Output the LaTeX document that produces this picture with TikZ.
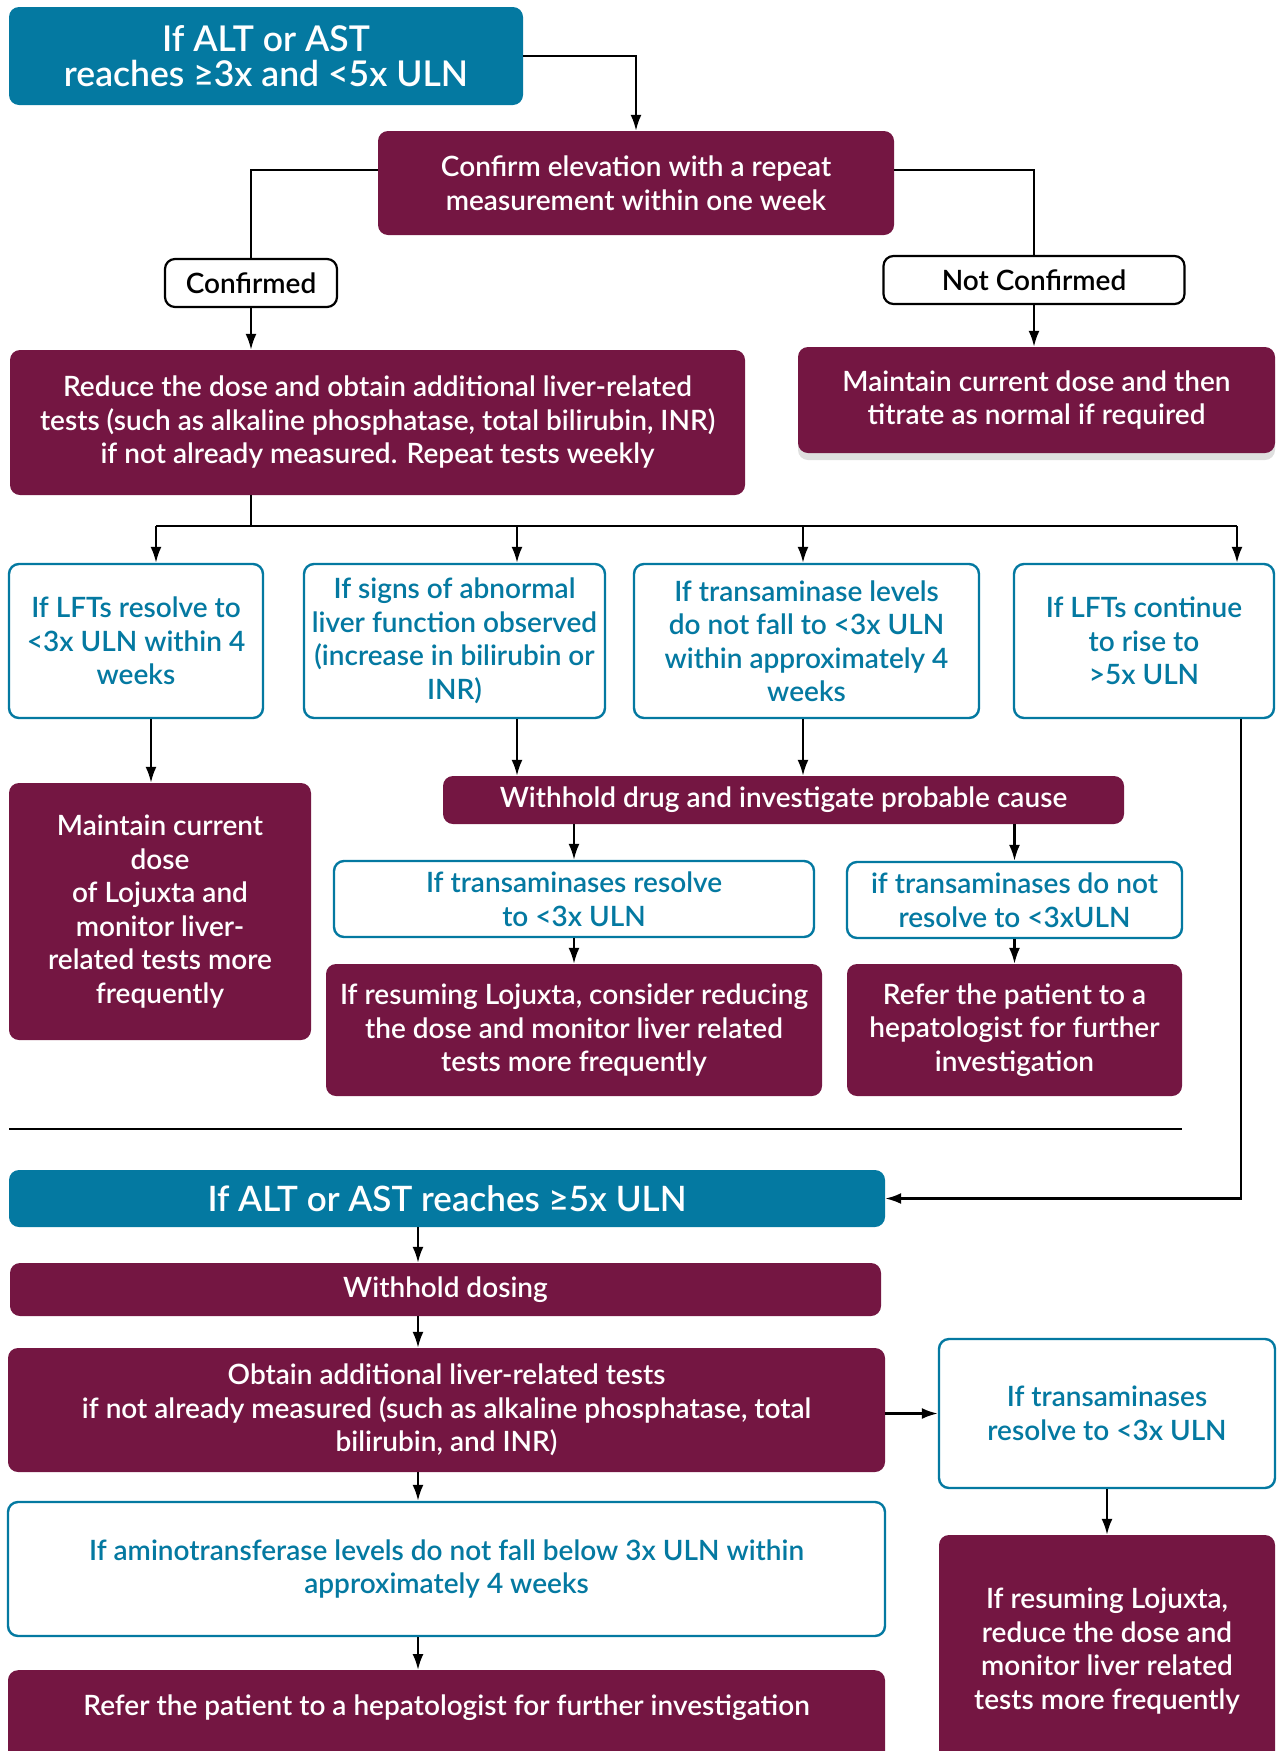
\documentclass[tikz,border=0pt]{standalone}
\usepackage{fontspec}
\setmainfont{Lato}[UprightFont=* Semibold, BoldFont=* Bold]
\usetikzlibrary{arrows.meta,shadows}

\definecolor{lojteal}{HTML}{0479A1}
\definecolor{lojwine}{HTML}{741642}

\tikzset{
  box/.style={rounded corners=10pt, align=center, inner sep=0pt,
              font=\fontsize{28}{33.5}\selectfont},
  tealbox/.style={box, fill=lojteal, text=white},
  winebox/.style={box, fill=lojwine, text=white},
  ifbox/.style={box, draw=lojteal, line width=2.4pt, fill=white, text=lojteal},
  tagbox/.style={box, draw=black, line width=2.2pt, fill=white},
  arr/.style={-{Latex[length=16pt,width=11pt]}, line width=2.3pt},
  wire/.style={line width=2.3pt}
}

\begin{document}
\begin{tikzpicture}[x=1pt, y=-1pt]
    \useasboundingbox (0,0) rectangle (1278,1751);
    % upper part: ALT or AST between 3x and 5x ULN
    \node[tealbox, minimum width=514, minimum height=98, font=\fontsize{35.5}{35}\selectfont] (title1) at (266,56)
        {If ALT or AST\\reaches ≥3x and <5x ULN};
    \node[winebox, minimum width=516, minimum height=104] (confirm) at (636,183)
        {Confirm elevation with a repeat\\measurement within one week};
    \node[tagbox, minimum width=172, minimum height=48] (confirmed) at (251,283) {Confirmed};
    \node[tagbox, minimum width=301, minimum height=48] (notconf) at (1034,280) {Not Confirmed};
    \node[winebox, minimum width=735, minimum height=145] (reduce) at (377.5,422.5)
        {Reduce the dose and obtain additional liver-related\\tests (such as alkaline phosphatase, total bilirubin, INR)\\if not already measured. Repeat tests weekly};
    \node[winebox, minimum width=477, minimum height=106,
          drop shadow={shadow xshift=0pt, shadow yshift=-7pt, opacity=0.25}] (keepdose) at (1036.5,400)
        {Maintain current dose and then\\titrate as normal if required};

    \node[ifbox, minimum width=254, minimum height=154] (lftok) at (136,641)
        {If LFTs resolve to\\<3x ULN within 4\\weeks};
    \node[ifbox, minimum width=301, minimum height=154] (signs) at (454.5,641)
        {If signs of abnormal\\liver function observed\\(increase in bilirubin or\\INR)};
    \node[ifbox, minimum width=345, minimum height=154] (nofall) at (806.5,641)
        {If transaminase levels\\do not fall to <3x ULN\\within approximately 4\\weeks};
    \node[ifbox, minimum width=260, minimum height=154] (lftrise) at (1144,641)
        {If LFTs continue\\to rise to\\>5x ULN};

    \node[winebox, minimum width=302, minimum height=257] (keeplojuxta) at (160,911.5)
        {Maintain current\\dose\\of Lojuxta and\\monitor liver-\\related tests more\\frequently};
    \node[winebox, minimum width=681, minimum height=48] (withhold) at (783.5,800)
        {Withhold drug and investigate probable cause};
    \node[ifbox, minimum width=480, minimum height=76] (resolveA) at (574,899)
        {If transaminases resolve\\to <3x ULN};
    \node[ifbox, minimum width=335, minimum height=76] (noresolve) at (1014.5,900)
        {if transaminases do not\\resolve to <3xULN};
    \node[winebox, minimum width=496, minimum height=132] (resumeA) at (574,1030)
        {If resuming Lojuxta, consider reducing\\the dose and monitor liver related\\tests more frequently};
    \node[winebox, minimum width=335, minimum height=132] (referA) at (1014.5,1030)
        {Refer the patient to a\\hepatologist for further\\investigation};

    \draw[wire, line width=2.8pt] (9,1129) -- (1182,1129);

    % lower part: ALT or AST at 5x ULN or more
    \node[tealbox, minimum width=876, minimum height=57, font=\fontsize{35}{36}\selectfont] (title2) at (447,1198.5)
        {If ALT or AST reaches ≥5x ULN};
    \node[winebox, minimum width=871, minimum height=53] (stopdose) at (445.5,1289.5) {Withhold dosing};
    \node[winebox, minimum width=877, minimum height=124] (obtain) at (446.5,1410)
        {Obtain additional liver-related tests\\if not already measured (such as alkaline phosphatase, total\\bilirubin, and INR)};
    \node[ifbox, minimum width=336, minimum height=149] (resolveB) at (1107,1413.5)
        {If transaminases\\resolve to <3x ULN};
    \node[winebox, minimum width=336, minimum height=232] (resumeB) at (1107,1651)
        {If resuming Lojuxta,\\reduce the dose and\\monitor liver related\\tests more frequently};
    \node[ifbox, minimum width=877, minimum height=134] (aminofall) at (446.5,1569)
        {If aminotransferase levels do not fall below 3x ULN within\\approximately 4 weeks};
    \node[winebox, minimum width=877, anchor=north, text height=21pt, text depth=70pt, inner ysep=24pt] (referB) at (446.5,1670)
        {Refer the patient to a hepatologist for further investigation};

    % connectors
    \draw[arr] (title1.east) -| (confirm.north);
    \draw[wire] ([yshift=13pt]confirm.west) -| (confirmed.north);
    \draw[wire] ([yshift=13pt]confirm.east) -| (notconf.north);
    \draw[arr] (confirmed) -- (reduce.north -| confirmed);
    \draw[arr] (notconf) -- (keepdose.north -| notconf);
    \coordinate (fork) at (251,526);
    \draw[wire] (reduce.south -| fork) -- (fork);
    \draw[wire] (156,526) -- (1237,526);
    \draw[arr] (fork -| 156,0) -- (lftok.north -| 156,0);
    \draw[arr] (fork -| 517,0) -- (signs.north -| 517,0);
    \draw[arr] (fork -| 803,0) -- (nofall.north -| 803,0);
    \draw[arr] (fork -| 1237,0) -- (lftrise.north -| 1237,0);
    \draw[arr] (lftok.south -| 151,0) -- (keeplojuxta.north -| 151,0);
    \draw[arr] (signs.south -| 517,0) -- (withhold.north -| 517,0);
    \draw[arr] (nofall.south -| 803,0) -- (withhold.north -| 803,0);
    \draw[arr] (lftrise.south -| 1241,0) |- (title2.east);
    \draw[arr] (withhold.south -| resolveA) -- (resolveA);
    \draw[arr] (withhold.south -| noresolve) -- (noresolve);
    \draw[arr] (resolveA) -- (resumeA);
    \draw[arr] (noresolve) -- (referA);
    \draw[arr] (title2.south -| 418,0) -- (stopdose.north -| 418,0);
    \draw[arr] (stopdose.south -| 418,0) -- (obtain.north -| 418,0);
    \draw[arr] (obtain.east |- resolveB) -- (resolveB);
    \draw[arr] (resolveB) -- (resumeB);
    \draw[arr] (obtain.south -| 418,0) -- (aminofall.north -| 418,0);
    \draw[arr] (aminofall.south -| 418,0) -- (referB.north -| 418,0);
\end{tikzpicture}
\end{document}
